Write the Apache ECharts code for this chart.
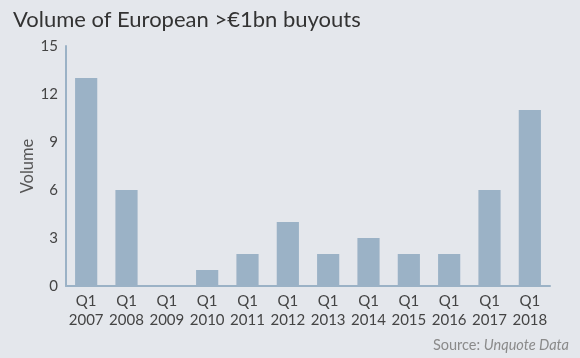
<!DOCTYPE html>
<html><head><meta charset="utf-8">
<script src="https://cdn.jsdelivr.net/npm/echarts@6/dist/echarts.min.js"></script>
<style>html,body{margin:0;padding:0;background:#e4e7ec;}#c{width:580px;height:358px;}</style>
</head><body><div id="c"></div>
<script>
const categories = ['Q1\n2007','Q1\n2008','Q1\n2009','Q1\n2010','Q1\n2011','Q1\n2012','Q1\n2013','Q1\n2014','Q1\n2015','Q1\n2016','Q1\n2017','Q1\n2018'];
const volumes = [13, 6, 0, 1, 2, 4, 2, 3, 2, 2, 6, 11];
const yTicks = [0, 3, 6, 9, 12, 15];

const chart = echarts.init(document.getElementById('c'), null, {renderer:'canvas'});
chart.setOption({
  backgroundColor: '#e4e7ec',
  animation: false,
  textStyle: {fontFamily: 'Lato'},
  title: [{
    text: 'Volume of European >€1bn buyouts',
    left: 8, top: 4,
    textStyle: {fontFamily: 'Lato', fontSize: 22, fontWeight: 'normal', color: '#333'}
  }, {
    text: '{a|Source: }{b|Unquote Data}',
    right: 6, top: 333,
    textStyle: {fontWeight: 'normal', rich: {
      a: {fontFamily: 'Lato', fontSize: 14.5, color: '#8a8a8a', fontWeight: 'normal'},
      b: {fontFamily: 'Lato', fontSize: 14.5, color: '#8a8a8a', fontStyle: 'italic', fontWeight: 'normal'}
    }}
  }],
  grid: {left: 66, right: 30, top: 46, bottom: 72},
  xAxis: {
    type: 'category',
    data: categories,
    axisLine: {lineStyle: {color: '#9bb2c6', width: 2}},
    axisTick: {show: false},
    axisLabel: {fontFamily: 'Lato', fontSize: 15, color: '#444', lineHeight: 19, margin: 6, interval: 0}
  },
  yAxis: {
    type: 'value',
    min: 0, max: 15, interval: 3,
    name: 'Volume',
    nameLocation: 'middle',
    nameGap: 30,
    nameMoveOverlap: false,
    nameTextStyle: {fontFamily: 'Lato', fontSize: 16.5, color: '#555'},
    axisLine: {show: true, lineStyle: {color: '#9bb2c6', width: 2}},
    axisTick: {show: false},
    splitLine: {show: false},
    axisLabel: {fontFamily: 'Lato', fontSize: 15, color: '#444', margin: 8,
      formatter: v => yTicks.includes(v) ? String(v) : ''}
  },
  series: [{
    type: 'bar',
    data: volumes,
    barWidth: '55%',
    itemStyle: {color: '#9bb2c6'}
  }]
});
</script></body></html>
